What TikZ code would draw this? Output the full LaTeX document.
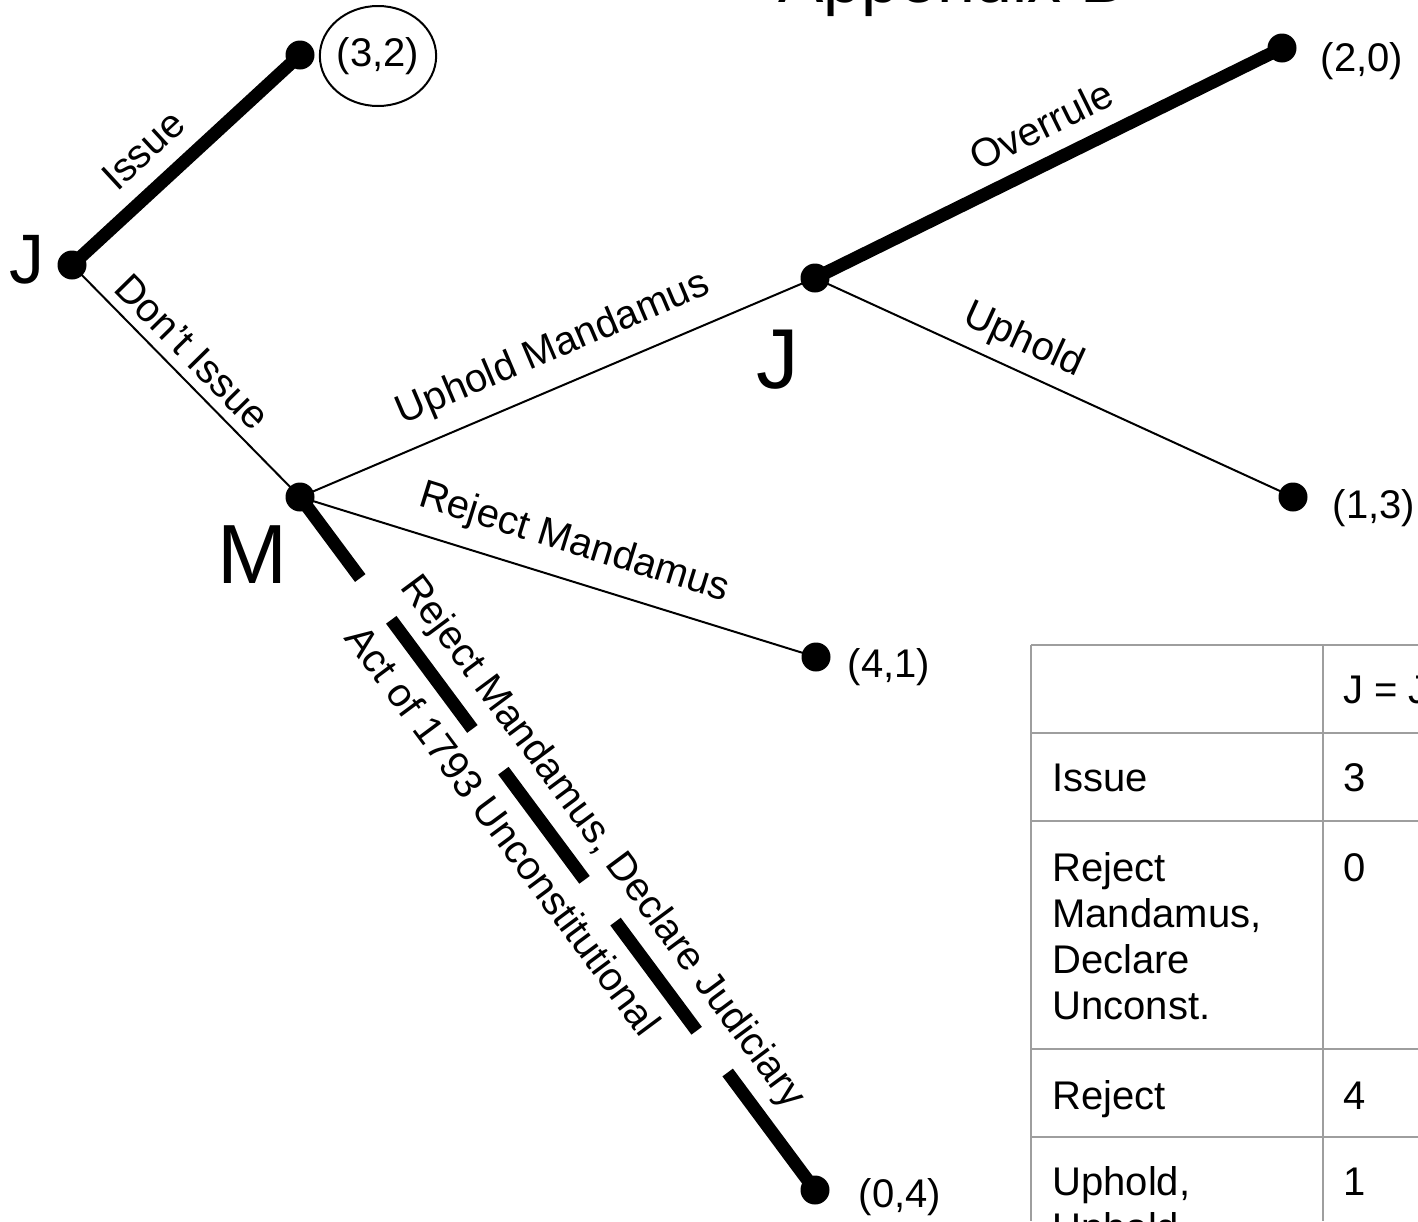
\documentclass[tikz,border=0pt]{standalone}
\usepackage{fontspec}
\setmainfont{Liberation Sans}
\usetikzlibrary{shapes.geometric}
\definecolor{rulegray}{HTML}{9E9E9E}

\begin{document}
\begin{tikzpicture}[x=0.5pt, y=-0.5pt,
    every node/.style={font=\fontsize{20}{23}\selectfont},
    dot/.style={circle, fill=black, inner sep=0pt, minimum size=14.5pt},
    move/.style={line width=1pt},
    spe/.style={line width=6.5pt},
    spedash/.style={line width=6.5pt, dash pattern=on 68pt off 26pt, dash phase=17.5pt},
    lbl/.style={sloped, inner sep=0pt},
    player/.style={anchor=base, inner sep=0pt},
    payoff/.style={font=\fontsize{20}{24}\selectfont, inner sep=0pt},
    cell/.style={anchor=base west, inner sep=0pt, font=\fontsize{20}{23}\selectfont},
    rule/.style={draw=rulegray, line width=1pt}
  ]
  \useasboundingbox (0,0) rectangle (1418,1221);
  \clip (0,0) rectangle (1418,1221);

  % title (cut by the top edge)
  \node[anchor=base west, inner sep=0pt, font=\fontsize{34}{40}\selectfont] (title) at (778,2) {Appendix B};

  % decision nodes and terminal nodes
  \node[dot] (j1)  at (72,265)   {};
  \node[dot] (t32) at (300,55)   {};
  \node[dot] (m)   at (300,497)  {};
  \node[dot] (j2)  at (815,278)  {};
  \node[dot] (t20) at (1282,48)  {};
  \node[dot] (t13) at (1293,497) {};
  \node[dot] (t41) at (816,657)  {};
  \node[dot] (t04) at (815,1190) {};

  % players
  \node[player, font=\fontsize{35}{40}\selectfont]   (pj1) at (27,283)  {J};
  \node[player, font=\fontsize{42.5}{48}\selectfont] (pj2) at (778,388) {J};
  \node[player, font=\fontsize{42}{48}\selectfont]   (pm)  at (252,583) {M};

  % payoffs
  \node[payoff, ellipse, draw, line width=1pt, minimum width=57pt, minimum height=50pt] (p32) at (378,56) {(3,2)};
  \node[payoff] (p20) at (1362,61)  {(2,0)};
  \node[payoff] (p13) at (1374,508) {(1,3)};
  \node[payoff] (p41) at (889,667)  {(4,1)};
  \node[payoff] (p04) at (900,1197) {(0,4)};

  % branches
  \draw[spe]  (j1.center) -- node[lbl, pos=0.42, above=8pt] {Issue} (t32.center);
  \draw[move] (j1.center) -- node[lbl, pos=0.45, above=5pt] {Don’t Issue} (m.center);
  \draw[move] (m.center)  -- node[lbl, pos=0.52, above=8.6pt] {Uphold Mandamus} (j2.center);
  \draw[spe]  (j2.center) -- node[lbl, pos=0.52, above=8pt] {Overrule} (t20.center);
  \draw[move] (j2.center) -- node[lbl, pos=0.41, above=5pt] {Uphold} (t13.center);
  \draw[move] (m.center)  -- node[lbl, pos=0.51, above=8.5pt] {Reject Mandamus} (t41.center);
  \draw[spedash] (m.center) --
        node[lbl, pos=0.53, above=5.5pt] {Reject Mandamus, Declare Judiciary}
        node[lbl, pos=0.45, below=7pt] {Act of 1793 Unconstitutional} (t04.center);

  % payoff table (cut by the right and bottom edges)
  \draw[rule] (1031,645) -- (1031,1221);
  \draw[rule] (1323,645) -- (1323,1221);
  \foreach \y in {645,733,821,1049,1137}
    \draw[rule] (1031,\y) -- (1418,\y);

  \node[cell] (hd)  at (1343,703) {J = J};
  \node[cell] (r1a) at (1052,791) {Issue};
  \node[cell] (r1b) at (1343,791) {3};
  \node[cell, anchor=north west, align=left] (r2a) at (1052,852) {Reject\\Mandamus,\\Declare\\Unconst.};
  \node[cell] (r2b) at (1343,881) {0};
  \node[cell] (r3a) at (1052,1109) {Reject};
  \node[cell] (r3b) at (1343,1109) {4};
  \node[cell, anchor=north west, align=left] (r4a) at (1052,1166) {Uphold,\\Uphold};
  \node[cell] (r4b) at (1343,1195) {1};
\end{tikzpicture}
\end{document}
